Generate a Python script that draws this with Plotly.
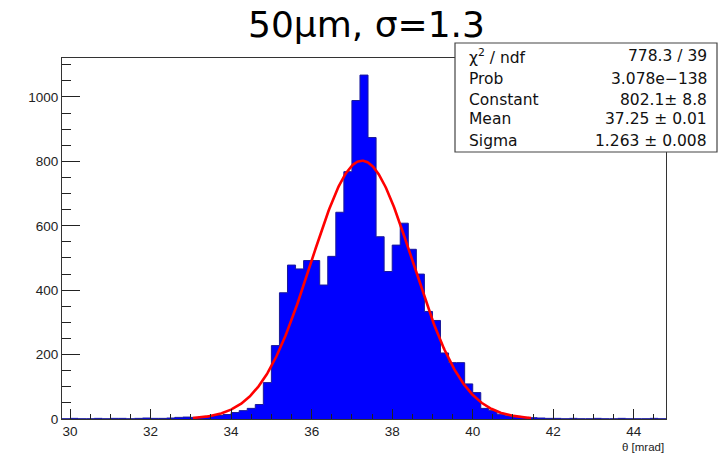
import numpy as np
import plotly.graph_objects as go

# ---- data ----
bin_start = 29.8
bin_width = 0.2
counts = [1, 2, 1, 1, 2, 1, 2, 2, 1, 2,
          3, 2, 2, 3, 5, 6, 5, 7, 9, 11,
          14, 20, 26, 33, 45, 113, 228, 392, 478, 466,
          492, 492, 416, 505, 642, 768, 989, 1068, 874, 566,
          458, 540, 608, 527, 450, 334, 306, 205, 175, 175,
          109, 82, 33, 26, 15, 10, 8, 5, 4, 3,
          2, 2, 1, 2, 1, 1, 2, 1, 1, 2,
          1, 1, 1, 2, 1]
fit_const = 802.1
fit_mean = 37.25
fit_sigma = 1.263
fit_range = (33.05, 41.45)
stat_labels = ["χ<sup>2</sup> / ndf", "Prob", "Constant", "Mean", "Sigma"]
stat_values = ["778.3 / 39", "3.078e−138", "802.1± 8.8", "37.25 ± 0.01", "1.263 ± 0.008"]
title_text = "50μm, σ=1.3"
x_label = "θ [mrad]"

edges = bin_start + bin_width * np.arange(len(counts) + 1)
step_y = list(counts) + [counts[-1]]

xf = np.linspace(fit_range[0], fit_range[1], 400)
yf = fit_const * np.exp(-0.5 * ((xf - fit_mean) / fit_sigma) ** 2)

fig = go.Figure()
fig.add_trace(go.Scatter(x=edges, y=step_y, mode="lines", line_shape="hv",
                         line=dict(color="#1a1a9a", width=1),
                         fill="tozeroy", fillcolor="#0000ff", hoverinfo="skip"))
fig.add_trace(go.Scatter(x=xf, y=yf, mode="lines",
                         line=dict(color="#ff0000", width=2.6), hoverinfo="skip"))

L, R, T, B = 62, 54, 58, 36
W, H = 720, 455
pw, ph = W - L - R, H - T - B

def px(x):
    return (x - L) / pw

def py(y):
    return (H - B - y) / ph

tickfont = dict(family="Liberation Sans, Arial", size=13.5, color="#222")
fig.update_layout(
    width=W, height=H, margin=dict(l=L, r=R, t=T, b=B),
    paper_bgcolor="white", plot_bgcolor="white", showlegend=False,
    xaxis=dict(range=[29.8, 44.8], tickmode="linear", tick0=30, dtick=2,
               ticks="inside", ticklen=10, tickwidth=1, tickcolor="#222",
               minor=dict(ticks="inside", ticklen=5, dtick=0.5, tickcolor="#222"),
               showline=True, linecolor="#333", linewidth=1.2, mirror=True,
               showgrid=False, zeroline=False, tickfont=tickfont),
    yaxis=dict(range=[0, 1121], tickmode="linear", tick0=0, dtick=200,
               ticks="inside", ticklen=18, tickwidth=1, tickcolor="#222",
               minor=dict(ticks="inside", ticklen=9, dtick=50, tickcolor="#222"),
               showline=True, linecolor="#333", linewidth=1.2, mirror=True,
               showgrid=False, zeroline=False, tickfont=tickfont),
)

# stats box
fig.add_shape(type="rect", xref="paper", yref="paper",
              x0=px(455), x1=px(717), y0=py(152), y1=py(43),
              line=dict(color="#444", width=1.2), fillcolor="white", layer="above")

row_y = [56, 79, 100, 119, 141]
sfont = dict(family="DejaVu Sans", size=15.5, color="#111")
for lab, val, ry in zip(stat_labels, stat_values, row_y):
    fig.add_annotation(text=lab, xref="paper", yref="paper", x=px(467), y=py(ry),
                       xanchor="left", yanchor="middle", showarrow=False, font=sfont)
    fig.add_annotation(text=val, xref="paper", yref="paper", x=px(709), y=py(ry),
                       xanchor="right", yanchor="middle", showarrow=False, font=sfont)

fig.add_annotation(text=title_text, xref="paper", yref="paper", x=px(366), y=py(25),
                   xanchor="center", yanchor="middle", showarrow=False,
                   font=dict(family="DejaVu Sans", size=36, color="#000"))

fig.add_annotation(text=x_label, xref="paper", yref="paper", x=px(666), y=py(447),
                   xanchor="right", yanchor="middle", showarrow=False,
                   font=dict(family="Liberation Sans, Arial", size=11.5, color="#222"))

fig.write_html("out.html")
